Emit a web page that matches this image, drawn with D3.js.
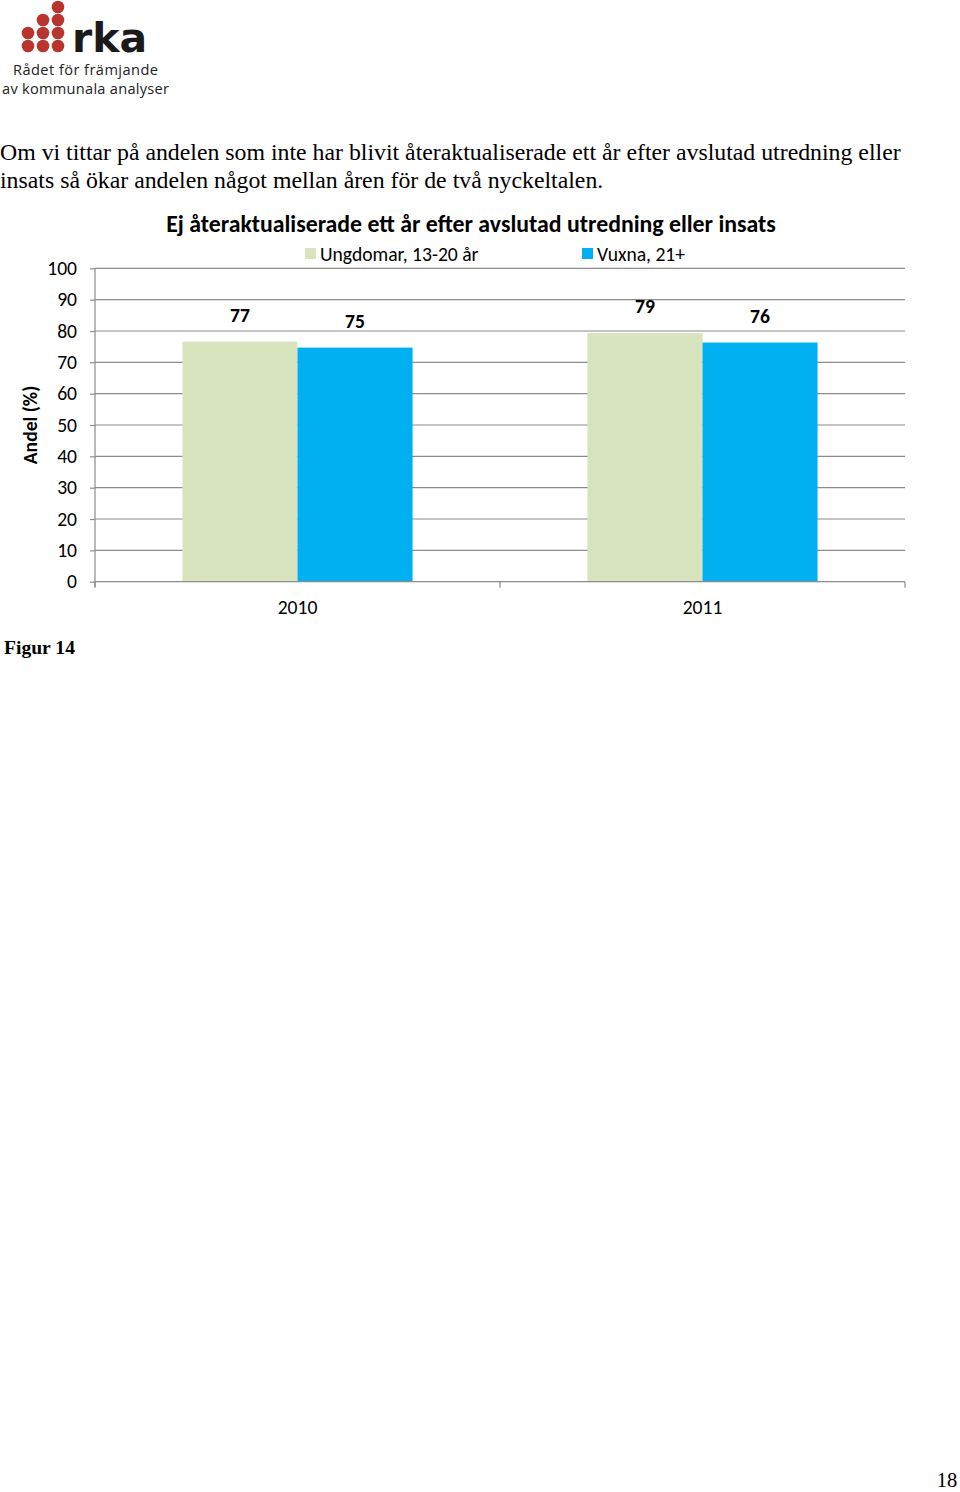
<!DOCTYPE html>
<html><head><meta charset="utf-8">
<script src="https://cdn.jsdelivr.net/npm/d3@7"></script>
<style>
html,body{margin:0;padding:0;background:#fff;}
svg{display:block;}
</style>
</head><body>
<svg id="page" width="960" height="1492"></svg>
<script>
// ---- data ----
const categories = ["2010", "2011"];
const seriesNames = ["Ungdomar, 13-20 år", "Vuxna, 21+"];
const ungdomar = [76.6, 79.3];
const vuxna = [74.7, 76.3];
const yTicks = [0, 10, 20, 30, 40, 50, 60, 70, 80, 90, 100];
const chartTitle = "Ej återaktualiserade ett år efter avslutad utredning eller insats";
const yTitle = "Andel (%)";
const bodyLines = [
  "Om vi tittar på andelen som inte har blivit återaktualiserade ett år efter avslutad utredning eller",
  "insats så ökar andelen något mellan åren för de två nyckeltalen."
];
const figCaption = "Figur 14";
const pageNumber = "18";
const logoRows = [[2], [1, 2], [0, 1, 2], [0, 1, 2]];

const colors = ["#d7e4bd", "#00b0f0"];
const gridColor = "#8c8c8c";
const calibri = "Carlito, Lato, 'Open Sans', sans-serif";
const serif = "'Liberation Serif', 'DejaVu Serif', serif";
const fs = 19.6;

const svg = d3.select("#page");

// ---- logo ----
const logo = svg.append("g");
logoRows.forEach((cols, r) => {
  cols.forEach(c => {
    logo.append("circle").attr("cx", 28 + c * 15).attr("cy", 7 + r * 13)
      .attr("r", 6.3).attr("fill", "#b8342c");
  });
});
logo.append("text").attr("x", 72).attr("y", 52).attr("font-family", "'DejaVu Sans', sans-serif")
  .attr("font-weight", "bold").attr("font-size", 41).attr("fill", "#1a1a1a").text("rka");
logo.append("text").attr("x", 13).attr("y", 75).attr("font-family", "'Open Sans', sans-serif")
  .attr("font-size", 14.6).attr("textLength", 145).attr("lengthAdjust", "spacing")
  .attr("fill", "#222").text("Rådet för främjande");
logo.append("text").attr("x", 2).attr("y", 93.5).attr("font-family", "'Open Sans', sans-serif")
  .attr("font-size", 14.6).attr("textLength", 167).attr("lengthAdjust", "spacing")
  .attr("fill", "#222").text("av kommunala analyser");

// ---- body text ----
bodyLines.forEach((t, i) => {
  svg.append("text").attr("x", 0).attr("y", 160 + i * 28)
    .attr("font-family", serif).attr("font-size", 23.8).attr("fill", "#000").text(t);
});

// ---- chart ----
const x0 = 95, x1 = 905, yTop = 268.3, yBot = 581.7;
const x = d3.scaleBand().domain(categories).range([x0, x1]).paddingInner(0).paddingOuter(0);
const xs = d3.scaleBand().domain(seriesNames).range([0, x.bandwidth()]).paddingInner(0).paddingOuter(0.76);
const y = d3.scaleLinear().domain([0, 100]).range([yBot, yTop]);

const chart = svg.append("g");

// gridlines
chart.append("g").selectAll("line").data(yTicks.filter(d => d > 0)).join("line")
  .attr("x1", x0).attr("x2", x1).attr("y1", d => y(d)).attr("y2", d => y(d))
  .attr("stroke", gridColor).attr("stroke-width", 1.2);

// y axis
const yAxis = chart.append("g").attr("transform", `translate(${x0},0)`)
  .call(d3.axisLeft(y).tickValues(yTicks).tickSize(5).tickPadding(13).tickSizeOuter(0));
yAxis.select(".domain").remove();
yAxis.selectAll(".tick line").attr("stroke", gridColor).attr("stroke-width", 1.2);
yAxis.selectAll(".tick text").attr("font-family", calibri).attr("font-size", fs).attr("fill", "#000");
chart.append("line").attr("x1", x0).attr("x2", x0).attr("y1", yTop).attr("y2", yBot + 5)
  .attr("stroke", gridColor).attr("stroke-width", 1.2);

// bars
const data = categories.map((c, i) => ({ cat: c, vals: [ungdomar[i], vuxna[i]] }));
const groups = chart.append("g").selectAll("g").data(data).join("g")
  .attr("transform", d => `translate(${x(d.cat)},0)`);
groups.selectAll("rect").data(d => d.vals.map((v, j) => ({ v, s: seriesNames[j], j }))).join("rect")
  .attr("x", d => xs(d.s)).attr("width", xs.bandwidth())
  .attr("y", d => y(d.v)).attr("height", d => yBot - y(d.v))
  .attr("fill", d => colors[d.j]);
groups.selectAll("text.lbl").data(d => d.vals.map((v, j) => ({ v, s: seriesNames[j], j }))).join("text")
  .attr("class", "lbl")
  .attr("x", d => xs(d.s) + xs.bandwidth() / 2).attr("y", d => y(d.v) - 20)
  .attr("text-anchor", "middle").attr("font-family", calibri).attr("font-weight", "bold")
  .attr("font-size", fs).attr("fill", "#000").text(d => d3.format(".0f")(d.v));

// x axis
const xAxisG = chart.append("g").attr("transform", `translate(0,${yBot})`);
xAxisG.append("line").attr("x1", x0).attr("x2", x1).attr("y1", 0).attr("y2", 0)
  .attr("stroke", gridColor).attr("stroke-width", 1.2);
const bounds = categories.map(c => x(c)).concat([x1]);
xAxisG.selectAll("line.t").data(bounds).join("line").attr("class", "t")
  .attr("x1", d => d).attr("x2", d => d).attr("y1", 0).attr("y2", 6)
  .attr("stroke", gridColor).attr("stroke-width", 1.2);
xAxisG.selectAll("text").data(categories).join("text")
  .attr("x", d => x(d) + x.bandwidth() / 2).attr("y", 32)
  .attr("text-anchor", "middle").attr("font-family", calibri).attr("font-size", fs)
  .attr("fill", "#000").text(d => d);

// title
svg.append("text").attr("x", 471).attr("y", 232).attr("text-anchor", "middle")
  .attr("font-family", calibri).attr("font-weight", "bold").attr("font-size", 23.8)
  .attr("fill", "#000").text(chartTitle);

// legend
const legX = [305, 582];
seriesNames.forEach((s, i) => {
  svg.append("rect").attr("x", legX[i]).attr("y", 248).attr("width", 11).attr("height", 11)
    .attr("fill", colors[i]);
  svg.append("text").attr("x", legX[i] + 15).attr("y", 261)
    .attr("font-family", calibri).attr("font-size", fs).attr("fill", "#000").text(s);
});

// y title
svg.append("text").attr("transform", "translate(37,425) rotate(-90)")
  .attr("text-anchor", "middle").attr("font-family", calibri).attr("font-weight", "bold")
  .attr("font-size", fs).attr("fill", "#000").text(yTitle);

// caption & page number
svg.append("text").attr("x", 4).attr("y", 654).attr("font-family", serif).attr("font-weight", "bold")
  .attr("font-size", 19.6).attr("fill", "#000").text(figCaption);
svg.append("text").attr("x", 947).attr("y", 1487).attr("text-anchor", "middle").attr("font-family", serif)
  .attr("font-size", 20.5).attr("fill", "#000").text(pageNumber);
</script>
</body></html>
